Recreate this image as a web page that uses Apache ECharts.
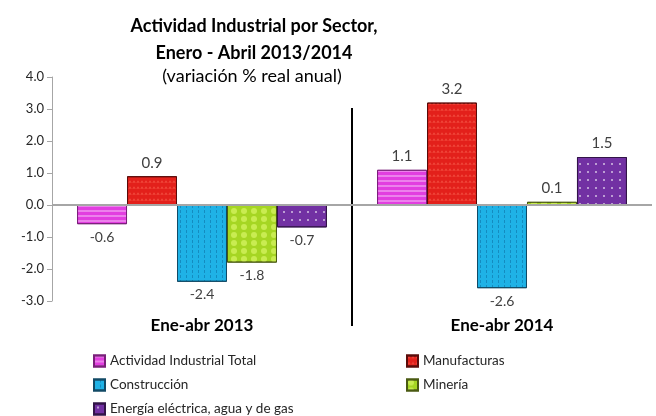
<!DOCTYPE html>
<html><head><meta charset="utf-8">
<script src="https://cdn.jsdelivr.net/npm/echarts@6/dist/echarts.min.js"></script>
<style>html,body{margin:0;padding:0;background:#fff}#c{width:656px;height:416px}</style>
</head><body><div id="c"></div>
<script>
const categories = ['Ene-abr 2013', 'Ene-abr 2014'];
const seriesNames = ['Actividad Industrial Total', 'Manufacturas', 'Construcción', 'Minería', 'Energía eléctrica, agua y de gas'];
const totalValues = [-0.6, 1.1];
const manufValues = [0.9, 3.2];
const construccionValues = [-2.4, -2.6];
const mineriaValues = [-1.8, 0.1];
const energiaValues = [-0.7, 1.5];
const yTicks = [-3, -2, -1, 0, 1, 2, 3, 4];

const allValues = [totalValues, manufValues, construccionValues, mineriaValues, energiaValues];
const colors = ['#E23EE0', '#E3201B', '#1FB2E6', '#A6D623', '#7231A3'];
const borders = ['#7a1f7a', '#5a0c0a', '#124a66', '#4a5a12', '#321448'];
const decals = [
  {symbol: 'rect', dashArrayX: [1, 0], dashArrayY: [1.5, 2.5], color: 'rgba(255,255,255,0.35)'},
  {symbol: 'triangle', symbolSize: 0.9, dashArrayX: [4, 0], dashArrayY: [3, 3], color: 'rgba(255,120,100,0.45)'},
  {symbol: 'rect', dashArrayX: [1, 5], dashArrayY: [3, 2], color: 'rgba(0,70,120,0.35)'},
  {symbol: 'circle', symbolSize: 1, dashArrayX: [8, 2], dashArrayY: [6, 2], color: 'rgba(230,255,120,0.55)'},
  {symbol: 'circle', symbolSize: 0.25, dashArrayX: [8, 0], dashArrayY: [8, 0], color: 'rgba(255,255,255,0.7)'}
];
const FONT = 'Lato, "Open Sans", sans-serif';

const series = seriesNames.map((name, i) => ({
  name,
  type: 'bar',
  barGap: '0%',
  barCategoryGap: '16.7%',
  data: allValues[i].map(v => ({
    value: v,
    label: {position: v >= 0 ? 'top' : 'bottom', fontSize: v >= 0 ? 15 : 14}
  })),
  itemStyle: {color: colors[i], borderColor: borders[i], borderWidth: 1, decal: decals[i]},
  label: {
    show: true, color: '#404040', fontSize: 14, fontFamily: FONT,
    formatter: p => p.value.toFixed(1), distance: 6
  },
  markLine: i === 0 ? {
    silent: true, symbol: 'none', label: {show: false},
    lineStyle: {color: '#A6A6A6', width: 2, type: 'solid'},
    data: [{yAxis: 0}]
  } : undefined
}));

const legendPos = [[88, 349], [401, 349], [88, 373], [401, 373], [88, 397]];
const legends = seriesNames.map((n, i) => ({
  data: [n], left: legendPos[i][0], top: legendPos[i][1],
  itemWidth: 11, itemHeight: 11, itemGap: 4,
  icon: 'rect',
  textStyle: {fontSize: 13.5, color: '#262626', fontFamily: FONT}
}));

const chart = echarts.init(document.getElementById('c'), null, {renderer: 'canvas'});
chart.setOption({
  animation: false,
  aria: {enabled: false, decal: {show: true}},
  title: [
    {text: 'Actividad Industrial por Sector,\nEnero - Abril 2013/2014', left: 249, textAlign: 'center', top: 8,
     textStyle: {fontSize: 18, fontWeight: 'bold', color: '#000', fontFamily: FONT, lineHeight: 27}},
    {text: '(variación % real anual)', left: 247, textAlign: 'center', top: 62,
     textStyle: {fontSize: 18, fontWeight: 'normal', color: '#000', fontFamily: FONT}}
  ],
  legend: legends,
  grid: {left: 52, right: 4, top: 77, bottom: 115, containLabel: false},
  xAxis: {
    type: 'category', data: categories,
    axisLine: {show: false, onZero: false}, axisTick: {show: false},
    axisLabel: {color: '#000', fontSize: 17, fontWeight: 'bold', fontFamily: FONT, margin: 16}
  },
  yAxis: {
    type: 'value', min: yTicks[0], max: yTicks[yTicks.length - 1], interval: 1,
    axisLine: {show: true, lineStyle: {color: '#A6A6A6'}},
    axisTick: {show: true, length: 5, lineStyle: {color: '#A6A6A6'}},
    splitLine: {show: false},
    axisLabel: {color: '#262626', fontSize: 13, fontFamily: FONT, margin: 8,
      formatter: v => v.toFixed(1)}
  },
  graphic: [{
    type: 'line', shape: {x1: 352, y1: 108, x2: 352, y2: 326},
    style: {stroke: '#000', lineWidth: 2}
  }],
  series
});
</script></body></html>
